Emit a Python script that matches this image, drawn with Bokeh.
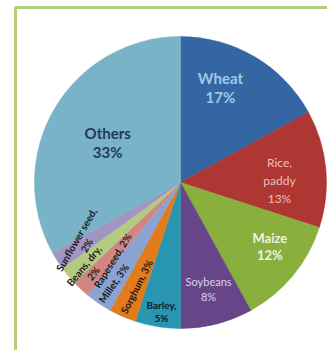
import math
from bokeh.plotting import figure
from bokeh.models import ColumnDataSource
from bokeh.core.properties import value
from bokeh.embed import file_html
from bokeh.resources import INLINE

# ---- data ----
crops = ["Wheat", "Rice, paddy", "Maize", "Soybeans", "Barley", "Sorghum",
         "Millet", "Rapeseed", "Beans, dry", "Sunflower seed", "Others"]
shares = [17, 13, 12, 8, 5, 3, 3, 2, 2, 2, 33]
label_texts = ["Wheat\n17%", "Rice,\npaddy\n13%", "Maize\n12%", "Soybeans\n8%",
               "Barley,\n5%", "Sorghum, 3%", "Millet, 3%", "Rapeseed, 2%",
               "Beans, dry,\n2%", "Sunflower seed,\n2%", "Others\n33%"]

# ---- styles / layout ----
colors = ["#3466A4", "#AE3633", "#89AF3D", "#664689", "#2996B1", "#E27B1C",
          "#8BA3D2", "#D28683", "#B2CB80", "#A494C2", "#79B3C7"]
label_colors = ["#A3C8E8", "#EBC0BF", "#EEF3E2", "#DCD2EA", "#10202E", "#1A1A1A",
                "#1A1A1A", "#1A1A1A", "#1A1A1A", "#1A1A1A", "#1F3A60"]
label_sizes = ["15px", "12px", "13px", "11px", "10px", "10px", "10px", "10px", "10px", "10px", "15px"]
label_styles = ["bold", "normal", "bold", "normal", "bold", "bold", "bold", "bold",
                "bold", "bold", "bold"]
label_lh = [1.05, 1.2, 1.1, 1.15, 1.1, 1.2, 1.2, 1.2, 1.0, 1.0, 1.05]
label_rot_deg = [0, 0, 0, 0, 0, 63, 55, 58, 51, 60, 0]
# label anchor in polar form: angle clockwise from 12 o'clock (deg), radius (px)
label_theta = [22.8, 88.8, 125.7, 165.2, 188.4, 202.9, 213.6, 221.1, 226.6, 238.8, 298.7]
label_r = [103, 99, 110, 110, 130, 113, 121, 103.5, 126.6, 115.8, 83]

W, H = 327, 350
cx, cy, R = 180, H - 182, 146

total = float(sum(shares))
starts, ends = [], []
acc = 0.0
for s in shares:
    a0 = math.pi / 2 - 2 * math.pi * acc / total
    acc += s
    a1 = math.pi / 2 - 2 * math.pi * acc / total
    starts.append(a0)
    ends.append(a1)

src = ColumnDataSource(dict(crop=crops, share=shares, start=starts, end=ends, color=colors))

p = figure(width=W, height=H, x_range=(0, W), y_range=(0, H),
           output_backend="svg", toolbar_location=None, min_border=0)
p.axis.visible = False
p.grid.visible = False
p.outline_line_color = None
p.background_fill_color = "white"

# frame (green border, only top & left visible in the crop)
p.line(x=[15, 15, W + 10], y=[-10, H - 7, H - 7], line_color="#B3CF7D", line_width=3)

p.wedge(x=cx, y=cy, radius=R, start_angle="start", end_angle="end",
        direction="clock", fill_color="color", line_color="color", line_width=0.5,
        source=src)

lx = [cx + r * math.sin(math.radians(t)) for t, r in zip(label_theta, label_r)]
ly = [cy + r * math.cos(math.radians(t)) for t, r in zip(label_theta, label_r)]
lsrc = ColumnDataSource(dict(x=lx, y=ly, text=label_texts, color=label_colors,
                             size=label_sizes, style=label_styles, lh=label_lh,
                             angle=[math.radians(a) for a in label_rot_deg]))
p.text(x="x", y="y", text="text", angle="angle", text_color="color",
       text_font_size="size", text_font_style="style", text_font=value("Lato"),
       text_align="center", text_baseline="middle", text_line_height="lh",
       source=lsrc)

open("out.html", "w").write(file_html(p, INLINE))
